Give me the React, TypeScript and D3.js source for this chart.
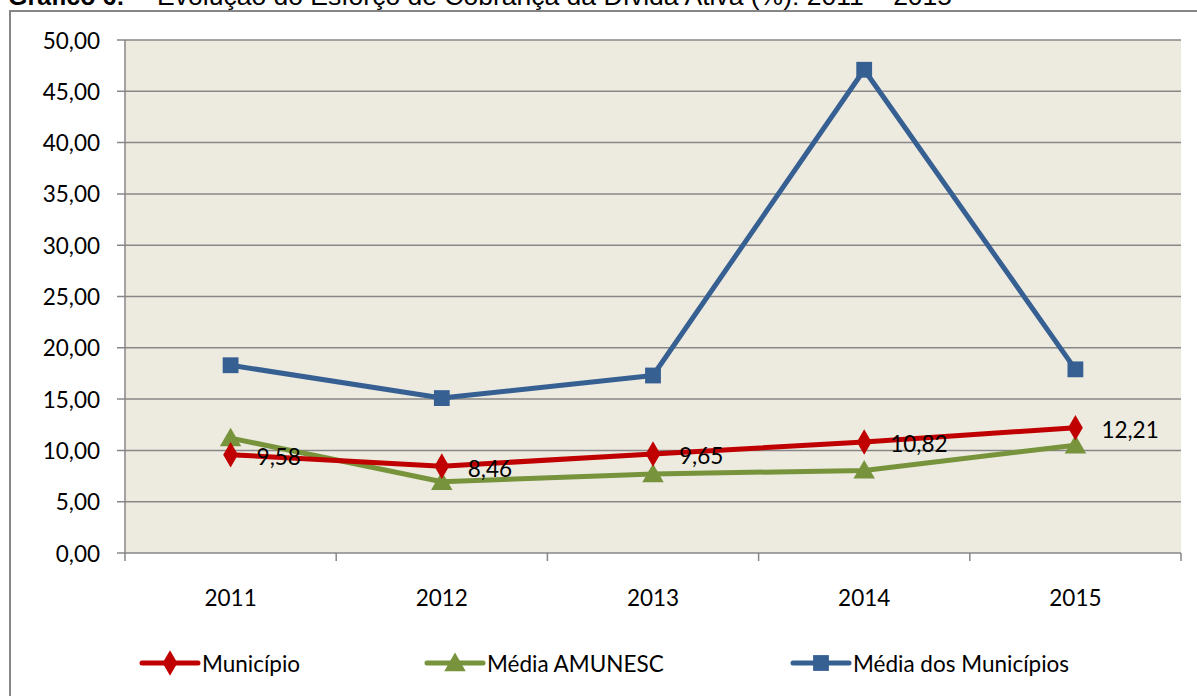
import React from "react";
import { scaleLinear, scaleBand, line, symbol, symbolDiamond, symbolTriangle, symbolSquare } from "d3";

const years = ["2011", "2012", "2013", "2014", "2015"];
const municipio = [9.58, 8.46, 9.65, 10.82, 12.21];
const mediaAmunesc = [11.2, 6.95, 7.7, 8.05, 10.5];
const mediaMunicipios = [18.3, 15.1, 17.3, 47.1, 17.9];
const yTicks = [0, 5, 10, 15, 20, 25, 30, 35, 40, 45, 50];
const municipioLabels = ["9,58", "8,46", "9,65", "10,82", "12,21"];

const title = "Gráfico 6:";
const subtitle = "– Evolução do Esforço de Cobrança da Dívida Ativa (%): 2011 – 2015";

const series = [
  { name: "Município", values: municipio, color: "#C00000", shape: symbolDiamond, size: 190 },
  { name: "Média AMUNESC", values: mediaAmunesc, color: "#77933C", shape: symbolTriangle, size: 200 },
  { name: "Média dos Municípios", values: mediaMunicipios, color: "#376092", shape: symbolSquare, size: 250 },
];

const W = 1197;
const H = 696;
const plot = { left: 125, top: 40, right: 1181, bottom: 553 };
const font = "Lato, 'Open Sans', sans-serif";
const fs = 22.5;

const App = () => {
  const x = scaleBand().domain(years).range([plot.left, plot.right]);
  const y = scaleLinear().domain([0, 50]).range([plot.bottom, plot.top]);
  const cx = (d: string) => (x(d) || 0) + x.bandwidth() / 2;
  const fmt = (v: number) => v.toFixed(2).replace(".", ",");
  const bounds = [...years.map((d) => x(d) || 0), plot.right];

  const legendX = [142, 427, 793];

  return (
    <svg width={W} height={H} style={{ position: "fixed", left: 0, top: 0, background: "#fff" }}>
      <text x={8} y={5} fontFamily="'Liberation Sans', Arial, sans-serif" fontSize={25} fill="#000">
        <tspan fontWeight="bold">{title}</tspan>
        <tspan x={135} fontSize={26.5}>{subtitle}</tspan>
      </text>
      <rect x={10} y={11} width={W} height={H} fill="#fff" stroke="#868686" strokeWidth={2} />
      <rect x={plot.left} y={plot.top} width={plot.right - plot.left} height={plot.bottom - plot.top} fill="#EDEAE0" />
      {yTicks.map((t) => (
        <g key={t}>
          <line x1={117} x2={plot.right} y1={y(t)} y2={y(t)} stroke="#878787" strokeWidth={1.5} />
          <text x={100} y={y(t)} textAnchor="end" dominantBaseline="central" fontFamily={font} fontSize={fs} fill="#000">
            {fmt(t)}
          </text>
        </g>
      ))}
      <line x1={plot.left} x2={plot.left} y1={plot.top} y2={plot.bottom} stroke="#878787" strokeWidth={1.5} />
      {bounds.map((b, i) => (
        <line key={i} x1={b} x2={b} y1={plot.bottom} y2={plot.bottom + 8} stroke="#878787" strokeWidth={1.5} />
      ))}
      {years.map((d) => (
        <text key={d} x={cx(d)} y={597} textAnchor="middle" dominantBaseline="central" fontFamily={font} fontSize={fs} fill="#000">
          {d}
        </text>
      ))}
      {[...series].reverse().map((s) => {
        const path = line<number>()
          .x((_, i) => cx(years[i]))
          .y((v) => y(v))(s.values);
        const sym = symbol().type(s.shape).size(s.size)();
        return (
          <g key={s.name}>
            <path d={path || ""} fill="none" stroke={s.color} strokeWidth={5} strokeLinejoin="round" />
            {s.values.map((v, i) => (
              <path key={i} d={sym || ""} transform={`translate(${cx(years[i])},${y(v) + (s.shape === symbolTriangle ? 2 : 0)})`} fill={s.color} />
            ))}
          </g>
        );
      })}
      {municipio.map((v, i) => (
        <text key={i} x={cx(years[i]) + 26} y={y(v) + 2} dominantBaseline="central" fontFamily={font} fontSize={fs} fill="#000">
          {municipioLabels[i]}
        </text>
      ))}
      {series.map((s, i) => {
        const sym = symbol().type(s.shape).size(s.size)();
        const lx = legendX[i];
        return (
          <g key={s.name}>
            <line x1={lx} x2={lx + 56} y1={663} y2={663} stroke={s.color} strokeWidth={5} strokeLinecap="round" />
            <path d={sym || ""} transform={`translate(${lx + 28},${663 + (s.shape === symbolTriangle ? 2 : 0)})`} fill={s.color} />
            <text x={lx + 60} y={663} dominantBaseline="central" fontFamily={font} fontSize={fs} fill="#000">
              {s.name}
            </text>
          </g>
        );
      })}
    </svg>
  );
};

export default App;
